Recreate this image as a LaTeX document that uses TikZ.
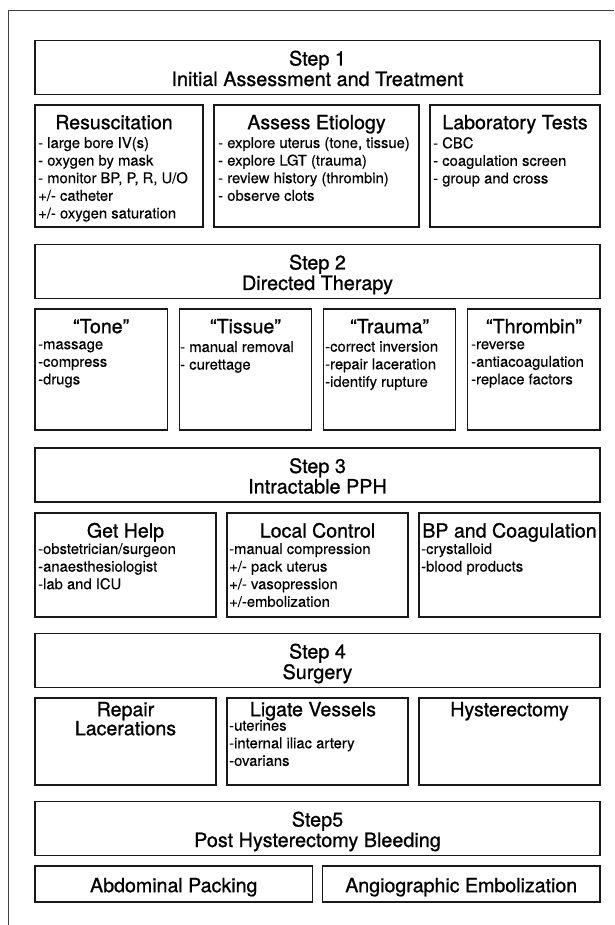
\documentclass[tikz,border=0pt]{standalone}
\usepackage{fontspec}
\setmainfont{TeX Gyre Heros}[FakeBold=0.3]
\newfontfamily\ttlfont{TeX Gyre Heros}[FakeBold=0.9]
\usepackage{tikz}
\tikzstyle{frame}=[draw=black!75, line width=0.7pt]
\tikzstyle{stepbox}=[draw=black!90, line width=1.2pt, minimum width=565pt, minimum height=54pt, inner sep=0pt]
\tikzstyle{box}=[draw=black!90, line width=1.2pt, inner sep=0pt]
\tikzstyle{head}=[anchor=north, align=center, inner sep=0pt, font=\ttlfont\fontsize{19.8}{20.5}\selectfont, execute at begin node=\strut]
\tikzstyle{ttl}=[anchor=north, align=center, inner sep=0pt, font=\ttlfont\fontsize{19.6}{19}\selectfont, execute at begin node=\strut]
\tikzstyle{lst}=[anchor=north west, align=left, inner sep=0pt, font=\fontsize{14.8}{17.6}\selectfont, execute at begin node=\strut]

\begin{document}
\begin{tikzpicture}[x=1pt, y=-1pt]
	\useasboundingbox (0,0) rectangle (614,925);
	\draw[frame] (614,10) -- (8,10) -- (8,925);

	\node[stepbox] (s1) at (317.5,67.5) {};
	\node[head] (h1) at (317.5,50.5) {Step 1\\Initial Assessment and Treatment};

	\node[box, minimum width=168pt, minimum height=122pt] (resus) at (119,166) {};
	\node[box, minimum width=205pt, minimum height=122pt] (etio) at (316.5,166) {};
	\node[box, minimum width=170pt, minimum height=122pt] (lab) at (515,166) {};
	\node[ttl] (resusT) at (114,114.7) {Resuscitation};
	\node[ttl] (etioT) at (316.5,114.7) {Assess Etiology};
	\node[ttl] (labT) at (515,114.7) {Laboratory Tests};
	\node[lst] (resusL) at (38,137) {- large bore IV(s)\\- oxygen by mask\\- monitor BP, P, R, U/O\\+/- catheter\\+/- oxygen saturation};
	\node[lst] (etioL) at (218,137) {- explore uterus (tone, tissue)\\- explore LGT (trauma)\\- review history (thrombin)\\- observe clots};
	\node[lst] (labL) at (433,137) {- CBC\\- coagulation screen\\- group and cross};

	\node[stepbox] (s2) at (317.5,271.5) {};
	\node[head] (h2) at (317.5,254.5) {Step 2\\Directed Therapy};

	\node[box, minimum width=132.25pt, minimum height=121pt] (tone) at (101.1,369.5) {};
	\node[box, minimum width=132.25pt, minimum height=121pt] (tissue) at (245.4,369.5) {};
	\node[box, minimum width=132.25pt, minimum height=121pt] (trauma) at (389.6,369.5) {};
	\node[box, minimum width=132.25pt, minimum height=121pt] (thromb) at (533.9,369.5) {};
	\node[ttl] (toneT) at (101.1,318.7) {“Tone”};
	\node[ttl] (tissueT) at (245.4,318.7) {“Tissue”};
	\node[ttl] (traumaT) at (389.6,318.7) {“Trauma”};
	\node[ttl] (thrombT) at (533.9,318.7) {“Thrombin”};
	\node[lst] (toneL) at (38,341) {-massage\\-compress\\-drugs};
	\node[lst] (tissueL) at (180,341) {- manual removal\\- curettage};
	\node[lst] (traumaL) at (325,341) {-correct inversion\\-repair laceration\\-identify rupture};
	\node[lst] (thrombL) at (471,341) {-reverse\\-antiacoagulation\\-replace factors};

	\node[stepbox] (s3) at (317.5,475) {};
	\node[head] (h3) at (317.5,458) {Step 3\\Intractable PPH};

	\node[box, minimum width=181pt, minimum height=104pt] (help) at (125.5,565) {};
	\node[box, minimum width=181pt, minimum height=104pt] (local) at (317.5,565) {};
	\node[box, minimum width=181pt, minimum height=104pt] (bpc) at (509.5,565) {};
	\node[ttl] (helpT) at (125.5,522.7) {Get Help};
	\node[ttl] (localT) at (317.5,522.7) {Local Control};
	\node[ttl] (bpcT) at (509.5,522.7) {BP and Coagulation};
	\node[lst] (helpL) at (38,543) {-obstetrician/surgeon\\-anaesthesiologist\\-lab and ICU};
	\node[lst] (localL) at (229,543) {-manual compression\\+/- pack uterus\\+/- vasopression\\+/-embolization};
	\node[lst] (bpcL) at (421,543) {-crystalloid\\-blood products};

	\node[stepbox] (s4) at (317.5,660.5) {};
	\node[head] (h4) at (317.5,643.5) {Step 4\\Surgery};

	\node[box, minimum width=181pt, minimum height=87pt] (repair) at (125.5,741.5) {};
	\node[box, minimum width=181pt, minimum height=87pt] (ligate) at (317.5,741.5) {};
	\node[box, minimum width=181pt, minimum height=87pt] (hyst) at (509.5,741.5) {};
	\node[ttl] (repairT) at (125.5,701.7) {Repair\\Lacerations};
	\node[ttl] (ligateT) at (313,701.7) {Ligate Vessels};
	\node[ttl] (hystT) at (509.5,701.7) {Hysterectomy};
	\node[lst] (ligateL) at (229,720) {-uterines\\-internal iliac artery\\-ovarians};

	\node[stepbox] (s5) at (317.5,828.5) {};
	\node[head] (h5) at (317.5,811.5) {Step5\\Post Hysterectomy Bleeding};

	\node[box, minimum width=277.5pt, minimum height=36pt] (pack) at (173.75,884) {};
	\node[box, minimum width=277.5pt, minimum height=36pt] (angio) at (461.25,884) {};
	\node[ttl] (packT) at (173.75,877.7) {Abdominal Packing};
	\node[ttl] (angioT) at (461.25,877.7) {Angiographic Embolization};
\end{tikzpicture}
\end{document}
